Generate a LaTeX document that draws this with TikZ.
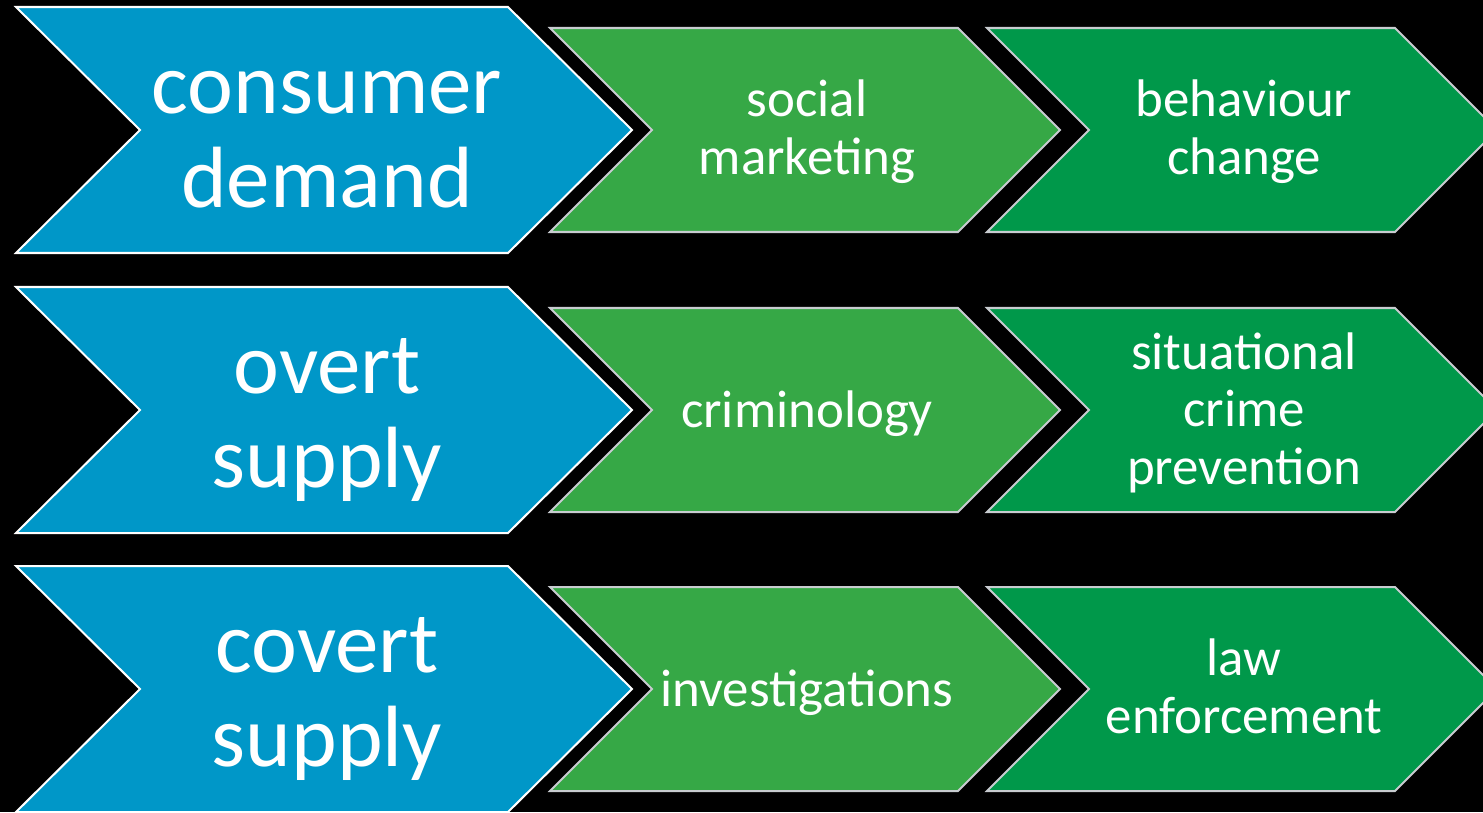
\documentclass[tikz,border=0pt]{standalone}
\usepackage{fontspec}
\setmainfont{Carlito}

\definecolor{chevblue}{RGB}{0,151,200}
\definecolor{chevgreen}{RGB}{54,168,70}
\definecolor{chevdark}{RGB}{0,152,74}
\definecolor{chevrim}{RGB}{200,204,208}

\tikzset{
  bluechev/.style={fill=chevblue, draw=white, line width=1.15pt, line join=miter},
  greenchev/.style={fill=chevgreen, draw=chevrim, line width=1.15pt},
  darkchev/.style={fill=chevdark, draw=chevrim, line width=1.15pt},
  % base of these nodes is the baseline of their last line
  bigtext/.style={text=white, align=center, anchor=base, inner sep=0pt,
    font=\fontsize{49.5}{53.5}\selectfont},
  smalltext/.style={text=white, align=center, anchor=base, inner sep=0pt,
    font=\fontsize{30.1}{32.6}\selectfont}
}

\begin{document}
\begin{tikzpicture}[x=0.02cm, y=-0.02cm]
                \fill[black] (0,0) rectangle (1483,812);
                \useasboundingbox (0,0) rectangle (1483,812);
                \clip (0,0) rectangle (1483,812);
                % three rows of chevrons
                \foreach \cy in {130,410,689} {
                    \draw[bluechev] (16,\cy-123) -- (508,\cy-123) -- (632,\cy) -- (508,\cy+123) -- (16,\cy+123) -- (140,\cy) -- cycle;
                    \draw[greenchev] (550,\cy-102) -- (958,\cy-102) -- (1060,\cy) -- (958,\cy+102) -- (550,\cy+102) -- (652,\cy) -- cycle;
                    \draw[darkchev] (987,\cy-102) -- (1395,\cy-102) -- (1497,\cy) -- (1395,\cy+102) -- (987,\cy+102) -- (1089,\cy) -- cycle;
                }
                % demand row
                \node[bigtext] (demand) at (327,207) {consumer\\demand};
                \node[smalltext] (socmark) at (807,174) {social\\marketing};
                \node[smalltext] (behave) at (1244,174) {behaviour\\change};
                % overt supply row
                \node[bigtext] (overt) at (327,487) {overt\\supply};
                \node[smalltext] (crimin) at (807,427) {criminology};
                \node[smalltext] (sitcrime) at (1244,484) {situational\\crime\\prevention};
                % covert supply row
                \node[bigtext] (covert) at (327,766) {covert\\supply};
                \node[smalltext] (investig) at (807,706) {investigations};
                \node[smalltext] (lawenf) at (1244,733) {law\\enforcement};
            \end{tikzpicture}
\end{document}
